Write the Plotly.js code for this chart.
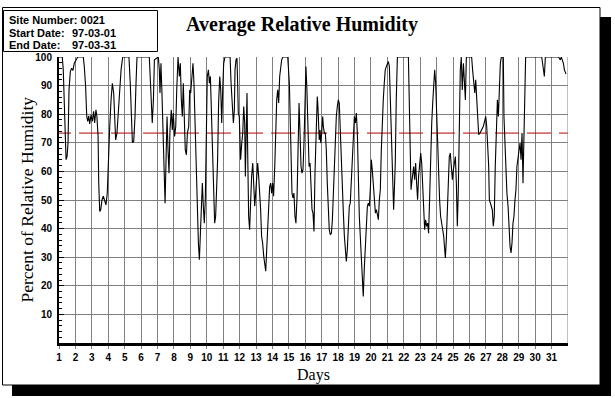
<!DOCTYPE html>
<html>
<head>
<meta charset="utf-8">
<script src="https://cdn.plot.ly/plotly-3.0.1.min.js"></script>
<style>html,body{margin:0;padding:0;background:#fff;}#chart{width:615px;height:398px;}</style>
</head>
<body>
<div id="chart"></div>
<script>
// ---- chart data ----
const chartTitle = 'Average Relative Humidity';
const xTitle = 'Days';
const yTitle = 'Percent of Relative Humidity';
const siteNumber = '0021';
const startDate = '97-03-01';
const endDate = '97-03-31';
const meanRH = 73.4;

const dayTicks = [1,2,3,4,5,6,7,8,9,10,11,12,13,14,15,16,17,18,19,20,21,22,23,24,25,26,27,28,29,30,31];
const dayLabels = ['1','2','3','4','5','6','7','8','9','10','11','12','13','14','15','16','17','18','19','20','21','22','23','24','25','26','27','28','29','30','31'];
const yTicks = [10,20,30,40,50,60,70,80,90,100];
const yLabels = ['10','20','30','40','50','60','70','80','90','100'];

const days = [
1.00,1.20,1.26,1.33,1.39,1.43,1.49,1.55,1.61,1.69,1.77,1.85,1.93,2.04,2.14,2.48,2.54,2.62,2.69,2.75,
2.81,2.87,2.95,3.03,3.11,3.17,3.25,3.31,3.38,3.42,3.48,3.54,3.62,3.70,3.78,3.86,3.94,4.00,4.09,4.17,
4.25,4.33,4.39,4.45,4.53,4.61,4.70,4.78,4.88,5.26,5.34,5.41,5.47,5.55,5.63,5.69,5.75,
6.50,6.58,6.68,6.75,6.81,7.05,7.11,7.15,7.21,7.27,7.33,7.40,7.46,7.52,7.58,7.64,7.70,7.76,7.84,7.90,
7.96,8.04,8.11,8.17,8.25,8.33,8.39,8.45,8.51,8.57,8.63,8.69,8.76,8.82,8.90,8.96,9.02,9.10,9.16,9.22,
9.30,9.36,9.43,9.49,9.55,9.61,9.67,9.73,9.79,9.85,9.91,9.97,10.03,10.10,10.16,10.22,10.28,10.34,10.40,10.48,
10.54,10.60,10.66,10.72,10.79,10.85,10.91,10.97,11.03,11.11,
11.42,11.48,11.56,11.62,11.68,11.72,11.78,11.84,11.88,11.92,11.98,12.02,12.06,12.13,12.19,12.25,12.31,12.35,12.39,12.45,
12.49,12.55,12.61,12.67,12.73,12.80,12.86,12.92,12.98,13.04,13.10,13.16,13.22,13.28,13.34,13.40,13.47,13.53,13.59,13.65,
13.71,13.77,13.83,13.89,13.95,14.01,14.07,14.14,14.20,14.26,14.32,14.38,14.44,14.50,14.56,14.64,14.93,15.03,15.09,15.13,
15.19,15.25,15.31,15.37,15.43,15.50,15.56,15.62,15.68,15.74,15.80,15.86,15.92,15.98,16.04,16.10,16.17,16.23,
16.29,16.35,16.41,16.47,16.53,16.59,16.65,16.69,16.73,16.77,16.81,16.85,16.90,16.94,17.00,17.06,17.10,17.16,17.22,17.28,
17.34,17.40,17.46,17.52,17.59,17.65,17.71,17.77,17.83,17.89,17.95,18.01,18.07,18.13,18.19,18.26,18.32,18.38,18.44,18.50,
18.56,18.62,18.68,18.74,18.80,18.86,18.93,18.99,19.05,19.11,19.17,19.23,19.29,19.35,19.41,19.47,19.53,19.60,19.66,19.72,
19.78,19.84,19.90,19.96,20.02,20.08,20.14,20.20,20.27,20.33,20.39,20.45,20.51,20.57,20.63,20.69,20.75,20.81,20.87,20.94,
21.00,21.06,21.12,21.18,21.24,21.28,21.34,21.38,21.44,21.48,21.54,21.61,
22.28,22.32,22.38,22.44,22.48,22.54,22.60,22.66,22.72,22.78,22.84,22.90,22.97,23.03,23.09,23.15,23.21,23.27,23.33,23.39,
23.45,23.51,23.57,23.64,23.70,23.76,23.82,23.88,23.94,24.00,24.06,24.12,24.18,24.24,24.31,24.37,24.43,24.49,24.53,24.59,
24.65,24.71,24.77,24.83,24.89,24.96,25.02,25.08,25.14,25.20,25.26,25.32,25.38,25.44,25.50,25.56,25.63,25.69,25.75,25.81,
26.13,26.19,26.25,26.32,26.38,26.44,26.50,26.56,
26.64,26.74,26.84,26.92,26.99,27.05,27.11,27.17,27.21,27.27,27.33,27.39,27.45,27.51,27.57,27.64,27.70,27.76,27.82,27.88,
27.94,28.06,28.10,28.16,28.22,28.28,28.35,28.41,28.47,28.53,28.59,28.65,28.71,28.77,28.83,28.89,28.95,29.02,29.08,29.14,
29.20,29.26,29.30,29.36,29.42,30.40,30.46,30.52,30.56,30.62,31.41,31.47,31.53,31.59,31.65,31.72,31.78,31.84,31.88
];

const humidity = [
100,100,95.5,79.2,67.5,64.1,65.2,69.9,88.5,94.9,96.1,95.3,97.8,99.2,100,100,96.7,89.7,79.2,77.5,
79.4,76.6,79.8,77.5,81.0,76.9,81.5,79.2,72.2,55.9,46.0,46.6,50.1,51.3,49.2,48.3,52.4,65.2,75.7,85.0,
90.8,87.4,78.0,71.0,73.4,81.5,88.5,95.5,100,100,90.8,76.9,70.1,70.5,79.2,90.8,100,
100,90.8,76.9,85.0,99.0,100,95.5,87.4,97.8,87.4,73.4,55.9,48.9,64.1,79.2,67.5,59.4,74.5,81.5,74.5,
80.4,72.2,75.7,88.5,100,93.2,97.8,85.0,79.2,90.8,78.0,67.5,65.8,73.4,75.7,88.5,87.4,94.3,97.8,90.8,
73.4,58.2,47.8,34.9,29.1,37.3,51.3,55.9,47.8,41.9,50.1,73.4,93.2,95.5,90.8,93.2,79.2,64.1,50.1,41.9,
44.3,52.4,64.1,83.9,93.2,88.5,76.9,88.5,97.8,100,
100,90.8,83.9,76.9,81.5,95.5,99.0,99.6,90.8,80.4,79.2,67.5,64.1,69.9,73.4,82.7,76.9,58.2,79.2,87.4,
67.5,44.3,39.6,50.1,58.2,62.9,52.4,47.8,52.4,59.4,62.9,58.2,53.6,46.6,37.3,35.0,30.3,26.8,25.1,32.6,
39.6,47.8,54.7,55.9,52.4,55.9,51.3,61.7,79.2,85.0,88.5,83.9,93.2,97.8,99.0,100,100,90.8,79.2,67.5,
52.4,50.7,52.4,44.3,41.9,51.3,64.1,83.9,73.4,61.7,59.4,60.6,69.9,85.0,96.7,88.5,73.4,61.7,
62.9,50.1,46.6,45.4,39.0,59.4,73.4,79.2,86.2,82.7,75.7,71.0,74.5,69.9,73.4,79.2,75.7,73.4,73.4,67.5,
55.9,45.4,39.6,37.9,38.4,43.1,53.6,62.9,73.4,79.2,82.7,85.0,83.9,73.4,61.7,55.9,45.4,37.3,32.6,28.5,
32.6,39.6,47.8,48.9,55.9,61.7,73.4,79.2,76.9,80.4,73.4,55.9,44.3,37.3,29.1,23.3,16.3,26.8,35.0,41.9,
47.8,48.9,47.8,53.6,64.1,60.6,55.9,47.8,45.4,46.6,44.3,43.1,50.1,53.6,67.5,79.2,85.0,90.8,95.5,96.7,
97.8,98.4,96.7,85.0,73.4,59.4,52.4,46.6,55.9,62.9,85.0,100,
100,83.9,73.4,53.6,55.9,58.2,61.7,57.1,62.9,55.9,50.1,58.2,64.1,66.4,62.9,53.6,41.9,39.6,43.1,40.8,
41.9,38.4,50.1,67.5,76.9,83.9,90.8,95.5,90.8,79.2,73.4,61.7,50.1,44.3,40.8,39.6,37.3,32.6,29.7,36.1,
46.6,55.9,65.2,66.4,60.6,57.1,60.6,62.9,65.2,55.9,40.8,53.6,79.2,95.5,100,88.5,97.8,90.8,85.0,100,
100,95.5,90.8,87.4,92.0,85.0,76.9,72.8,
73.4,74.5,75.7,77.5,79.2,75.7,69.9,61.7,50.1,48.9,47.8,46.6,40.8,44.3,61.7,73.4,85.0,79.2,90.8,97.8,
100,100,79.2,67.5,59.4,52.4,47.8,39.6,33.8,31.5,35.0,41.9,44.3,50.1,53.6,61.7,65.2,67.5,69.9,64.1,
73.4,55.9,67.5,90.8,100,100,97.8,95.5,93.2,100,100,99.6,99.0,100,99.0,97.8,95.5,94.3,94.0
];

// ---- layout helpers (pixel -> paper coordinates) ----
const W = 615, H = 398;
const M = {l: 59, r: 47, t: 57, b: 55};
const PW = W - M.l - M.r, PH = H - M.t - M.b;
const px = p => (p - M.l) / PW;
const py = p => (H - M.b - p) / PH;

const tickFont = {family: '"Liberation Sans Narrow", "Liberation Sans", Arial, sans-serif', size: 10, color: '#000', weight: 700};
const boxFont = {family: '"Liberation Sans", Arial, sans-serif', size: 11, color: '#000', weight: 700};
const serif = '"Liberation Serif", "Times New Roman", serif';

const traces = [
  {
    x: [dayTicks[0] - 0.73, dayTicks[dayTicks.length - 1] + 1],
    y: [meanRH, meanRH],
    type: 'scatter', mode: 'lines',
    line: {color: '#b80000', width: 1, dash: '24px,8px'},
    hoverinfo: 'skip'
  },
  {
    x: days, y: humidity,
    type: 'scatter', mode: 'lines',
    line: {color: '#000', width: 1.1},
    hoverinfo: 'skip'
  }
];

const layout = {
  width: W, height: H,
  margin: {l: M.l, r: M.r, t: M.t, b: M.b, pad: 0},
  paper_bgcolor: '#fff', plot_bgcolor: '#fff',
  showlegend: false,
  title: {
    text: chartTitle,
    font: {family: serif, size: 20, color: '#000', weight: 700},
    xref: 'container', yref: 'container',
    x: 302 / W, y: 1 - 24 / H, xanchor: 'center', yanchor: 'middle'
  },
  xaxis: {
    range: [dayTicks[0], dayTicks[dayTicks.length - 1] + 1],
    tickmode: 'array', tickvals: dayTicks, ticktext: dayLabels,
    showgrid: true, gridcolor: '#808080', gridwidth: 1,
    zeroline: false,
    showline: true, linecolor: '#000', linewidth: 3,
    ticks: 'outside', ticklen: 3, tickcolor: '#808080',
    tickfont: tickFont,
    ticklabelstandoff: 0,
    title: {text: xTitle, font: {family: serif, size: 16, color: '#000'}, standoff: 7},
    fixedrange: true
  },
  yaxis: {
    range: [0, 100],
    tickmode: 'array', tickvals: yTicks, ticktext: yLabels,
    showgrid: true, gridcolor: '#808080', gridwidth: 1,
    zeroline: false,
    showline: true, linecolor: '#000', linewidth: 2,
    ticks: 'inside', ticklen: 5, tickcolor: '#000',
    minor: {ticks: 'inside', dtick: 2, tick0: 0, ticklen: 3, tickcolor: '#000', showgrid: false},
    tickfont: tickFont,
    ticklabelstandoff: 3,
    fixedrange: true
  },
  shapes: [
    // drop shadow
    {type: 'rect', xref: 'paper', yref: 'paper', x0: px(600), x1: px(611), y0: py(396), y1: py(17),
     fillcolor: '#000', line: {width: 0}},
    {type: 'rect', xref: 'paper', yref: 'paper', x0: px(12), x1: px(611), y0: py(396), y1: py(385),
     fillcolor: '#000', line: {width: 0}},
    // outer frame
    {type: 'rect', xref: 'paper', yref: 'paper', x0: px(2.5), x1: px(600), y0: py(385), y1: py(7.5),
     line: {color: '#000', width: 1}},
    // info box
    {type: 'rect', xref: 'paper', yref: 'paper', x0: px(3.5), x1: px(157.5), y0: py(51.5), y1: py(10.5),
     line: {color: '#000', width: 1}},
    // right border of plot
    {type: 'line', xref: 'x', yref: 'y', x0: dayTicks[dayTicks.length - 1] + 1, x1: dayTicks[dayTicks.length - 1] + 1,
     y0: 0, y1: 100, line: {color: '#808080', width: 1}}
  ],
  annotations: [
    // y axis title
    {xref: 'paper', yref: 'paper', x: px(26.5), y: py(200), xanchor: 'center', yanchor: 'middle',
     textangle: -90, text: yTitle, showarrow: false,
     font: {family: serif, size: 17.5, color: '#000'}},
    {xref: 'paper', yref: 'paper', x: px(7), y: py(20), xanchor: 'left', yanchor: 'middle',
     text: 'Site Number: ' + siteNumber, showarrow: false, font: boxFont},
    {xref: 'paper', yref: 'paper', x: px(7), y: py(32.5), xanchor: 'left', yanchor: 'middle',
     text: 'Start Date:', showarrow: false, font: boxFont},
    {xref: 'paper', yref: 'paper', x: px(70), y: py(32.5), xanchor: 'left', yanchor: 'middle',
     text: startDate, showarrow: false, font: boxFont},
    {xref: 'paper', yref: 'paper', x: px(7), y: py(45), xanchor: 'left', yanchor: 'middle',
     text: 'End Date:', showarrow: false, font: boxFont},
    {xref: 'paper', yref: 'paper', x: px(70), y: py(45), xanchor: 'left', yanchor: 'middle',
     text: endDate, showarrow: false, font: boxFont}
  ]
};

Plotly.newPlot('chart', traces, layout, {staticPlot: true, displayModeBar: false});
</script>
</body>
</html>
